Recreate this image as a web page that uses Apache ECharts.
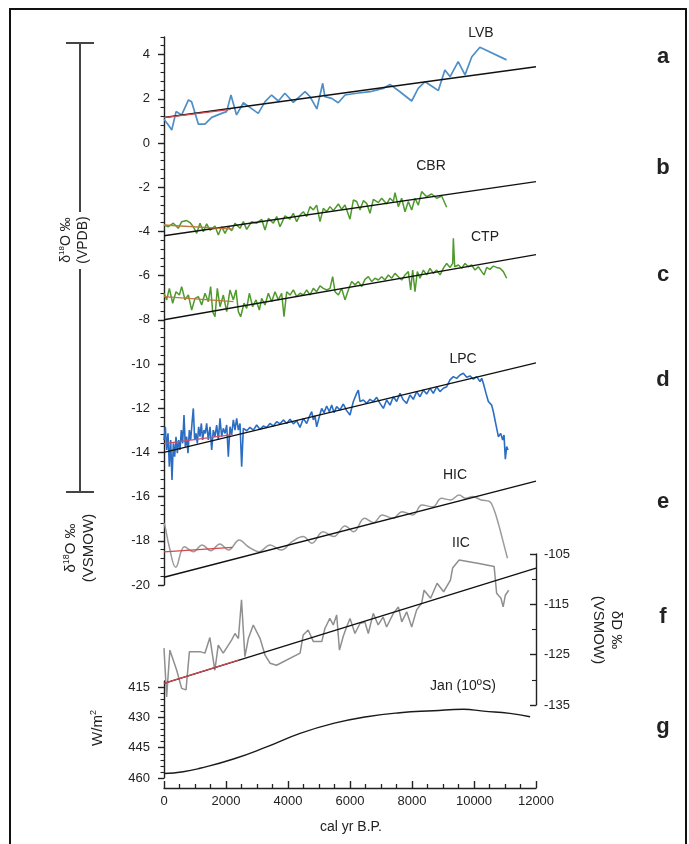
<!DOCTYPE html>
<html><head><meta charset="utf-8">
<script src="https://cdn.jsdelivr.net/npm/echarts@6/dist/echarts.min.js"></script>
<style>html,body{margin:0;padding:0;background:#fff}#c{width:689px;height:844px}</style>
</head><body><div id="c"></div>
<script>
// ---- data (x = cal yr B.P.) ----
const lvb = [[0,1.07],[140,0.81],[250,0.59],[390,1.42],[570,1.27],[790,1.95],[890,1.87],[1110,0.85],[1320,0.85],[1540,1.16],[1860,1.34],[2020,1.42],[2160,2.17],[2340,1.27],[2560,1.82],[2770,1.61],[3040,1.34],[3260,1.87],[3470,2.17],[3690,1.9],[3900,2.25],[4170,1.84],[4550,2.32],[4710,2.1],[4930,1.54],[5120,2.7],[5190,2.1],[5410,2.02],[5620,1.82],[5840,2.17],[6210,2.25],[6650,2.32],[7070,2.47],[7290,2.65],[7610,2.32],[7990,1.9],[8200,2.47],[8420,2.77],[8630,2.58],[8850,2.37],[9060,3.3],[9230,3.0],[9490,3.68],[9710,3.08],[9930,3.9],[10190,4.33],[11050,3.76]];
const cbr = [[0,-3.71],[140,-3.79],[301,-3.63],[462,-3.86],[570,-3.56],[731,-3.51],[839,-3.6],[946,-3.79],[1054,-4.09],[1161,-3.63],[1269,-4.01],[1376,-3.66],[1484,-3.94],[1645,-3.76],[1753,-4.16],[1860,-3.79],[1968,-4.09],[2075,-3.79],[2183,-3.97],[2290,-3.63],[2452,-3.86],[2559,-3.56],[2667,-3.91],[2828,-3.56],[2989,-3.63],[3151,-3.45],[3258,-3.94],[3366,-3.41],[3527,-3.63],[3635,-3.33],[3742,-3.79],[3903,-3.3],[4064,-3.45],[4172,-3.18],[4280,-3.56],[4387,-3.26],[4495,-3.11],[4602,-3.33],[4710,-2.88],[4817,-3.03],[4925,-2.81],[5032,-3.56],[5140,-2.96],[5248,-3.11],[5355,-2.88],[5463,-3.06],[5624,-2.76],[5732,-3.0],[5839,-2.81],[6000,-3.45],[6108,-2.58],[6215,-2.65],[6323,-3.03],[6430,-2.61],[6538,-2.73],[6645,-3.18],[6753,-2.55],[6914,-2.7],[7022,-2.5],[7183,-2.76],[7291,-2.5],[7398,-2.65],[7452,-2.25],[7559,-2.88],[7667,-2.5],[7774,-3.11],[7882,-2.65],[7989,-3.03],[8097,-2.5],[8204,-2.81],[8312,-2.2],[8473,-2.43],[8635,-2.31],[8796,-2.5],[8957,-2.4],[9118,-2.91]];
const ctp = [[0,-6.8],[86,-7.1],[172,-6.58],[280,-7.25],[387,-6.73],[495,-6.88],[570,-6.5],[677,-7.1],[785,-6.88],[893,-7.56],[1000,-7.03],[1108,-6.95],[1215,-7.33],[1323,-6.8],[1430,-7.18],[1505,-6.5],[1570,-7.63],[1645,-7.86],[1720,-6.58],[1807,-7.41],[1914,-6.88],[2022,-7.63],[2129,-6.65],[2237,-7.1],[2323,-6.65],[2398,-7.63],[2473,-7.86],[2581,-7.25],[2667,-7.48],[2753,-6.8],[2860,-7.41],[2968,-7.1],[3075,-7.56],[3151,-7.03],[3258,-7.33],[3366,-6.8],[3473,-7.18],[3581,-6.73],[3688,-7.1],[3796,-6.8],[3871,-7.86],[3957,-6.73],[4065,-6.88],[4172,-6.65],[4280,-6.95],[4387,-6.8],[4495,-6.88],[4602,-6.65],[4710,-6.88],[4817,-6.58],[4925,-6.73],[5032,-6.47],[5140,-6.58],[5248,-6.65],[5355,-6.58],[5441,-6.05],[5516,-6.73],[5624,-6.88],[5731,-6.58],[5839,-7.1],[5946,-6.65],[6054,-6.27],[6162,-6.42],[6269,-6.27],[6377,-6.5],[6484,-6.17],[6592,-6.05],[6699,-6.27],[6807,-6.12],[6914,-6.2],[7022,-6.05],[7129,-6.2],[7237,-5.97],[7344,-6.12],[7452,-5.9],[7559,-6.05],[7667,-6.2],[7774,-5.97],[7882,-5.82],[7957,-6.65],[8022,-5.75],[8097,-6.73],[8172,-5.82],[8258,-6.12],[8366,-5.75],[8473,-5.97],[8581,-5.67],[8688,-5.9],[8796,-5.75],[8904,-5.97],[9011,-5.67],[9119,-5.45],[9226,-5.63],[9312,-5.45],[9334,-4.31],[9377,-5.6],[9495,-5.52],[9603,-5.67],[9710,-5.45],[9818,-5.6],[9925,-5.52],[10033,-5.75],[10140,-5.6],[10248,-5.82],[10323,-5.97],[10409,-5.63],[10516,-5.72],[10624,-5.57],[10732,-5.63],[10839,-5.67],[10947,-5.82],[11054,-6.12]];
const lpc = [[0,-13.44],[43,-12.84],[86,-13.89],[129,-13.14],[172,-14.65],[215,-13.44],[258,-15.25],[301,-13.59],[344,-14.19],[387,-13.29],[430,-14.04],[473,-13.44],[516,-13.89],[559,-12.99],[602,-13.59],[645,-12.31],[688,-13.74],[731,-13.29],[774,-14.04],[817,-12.99],[860,-13.44],[903,-12.69],[946,-12.01],[989,-13.44],[1032,-13.14],[1075,-13.59],[1118,-12.84],[1161,-13.29],[1204,-12.69],[1247,-13.44],[1290,-12.99],[1333,-13.14],[1376,-12.69],[1430,-13.44],[1484,-12.84],[1538,-13.89],[1591,-12.99],[1645,-13.29],[1699,-12.76],[1753,-13.44],[1807,-12.46],[1860,-13.29],[1914,-12.91],[1968,-13.14],[2022,-12.76],[2075,-14.19],[2129,-12.84],[2183,-13.21],[2237,-12.53],[2290,-12.99],[2344,-12.46],[2398,-12.99],[2452,-12.69],[2505,-14.65],[2559,-12.91],[2667,-13.02],[2774,-12.87],[2882,-12.99],[2989,-12.76],[3097,-12.96],[3204,-12.81],[3312,-12.87],[3419,-12.69],[3527,-12.81],[3635,-12.61],[3742,-12.71],[3850,-12.53],[3957,-12.69],[4065,-12.5],[4172,-12.71],[4280,-12.56],[4387,-12.87],[4495,-12.46],[4602,-12.69],[4710,-12.31],[4764,-12.16],[4817,-12.53],[4871,-12.35],[4925,-12.84],[5011,-12.38],[5086,-12.01],[5162,-12.2],[5248,-11.9],[5333,-12.16],[5409,-11.86],[5484,-12.2],[5570,-11.93],[5678,-12.08],[5785,-11.81],[5893,-12.11],[6000,-12.31],[6108,-11.7],[6215,-11.33],[6269,-11.18],[6323,-11.7],[6430,-11.63],[6538,-11.78],[6645,-11.6],[6753,-11.7],[6860,-11.51],[6968,-11.78],[7076,-12.01],[7183,-11.63],[7291,-11.86],[7398,-11.48],[7506,-11.7],[7613,-11.33],[7721,-11.63],[7828,-11.78],[7936,-11.4],[8043,-11.6],[8151,-11.25],[8258,-11.48],[8366,-11.18],[8473,-11.36],[8581,-11.1],[8688,-11.33],[8796,-11.03],[8903,-11.25],[9011,-11.1],[9119,-11.03],[9226,-10.72],[9334,-10.57],[9441,-10.65],[9549,-10.5],[9656,-10.42],[9764,-10.6],[9871,-10.54],[9979,-10.69],[10086,-10.57],[10194,-10.8],[10248,-10.65],[10301,-10.87],[10388,-11.33],[10463,-11.7],[10570,-11.86],[10624,-12.16],[10678,-12.16],[10732,-12.91],[10786,-13.29],[10861,-13.14],[10925,-13.44],[10968,-13.21],[11011,-14.31],[11054,-13.74],[11097,-13.89]];
const hic = [[0,-17.2],[25,-17.28],[170,-18.27],[380,-19.2],[660,-18.27],[950,-18.49],[1230,-18.19],[1510,-18.45],[1800,-18.14],[2080,-18.42],[2430,-17.96],[2720,-18.27],[3070,-18.49],[3420,-18.19],[3780,-18.42],[4130,-18.04],[4490,-17.81],[4770,-18.11],[5130,-17.59],[5480,-17.81],[5840,-17.33],[6120,-17.59],[6470,-16.98],[6760,-17.18],[7040,-16.83],[7390,-16.98],[7680,-16.68],[8030,-16.83],[8320,-16.38],[8670,-16.46],[8950,-16.08],[9240,-16.15],[9520,-15.93],[9730,-16.08],[9950,-16.0],[10230,-16.15],[10510,-16.23],[10650,-16.61],[10800,-17.29],[10940,-18.04],[11080,-18.79]];
const iic = [[0,-123.7],[85,-133.4],[190,-124.1],[410,-128.1],[570,-131.7],[710,-132.0],[820,-124.4],[1160,-124.4],[1320,-124.7],[1480,-121.6],[1640,-128.1],[1750,-123.1],[1910,-124.7],[2180,-122.1],[2290,-120.8],[2400,-121.8],[2500,-114.1],[2610,-125.4],[2720,-121.8],[2880,-119.1],[3100,-121.8],[3260,-125.1],[3420,-126.7],[3630,-127.1],[4390,-124.7],[4490,-121.1],[4650,-120.1],[4820,-122.4],[5090,-122.4],[5190,-119.8],[5350,-117.8],[5460,-119.1],[5570,-117.1],[5660,-124.1],[5780,-121.4],[5890,-119.5],[6000,-117.8],[6160,-120.8],[6320,-118.8],[6480,-118.5],[6590,-120.8],[6750,-116.8],[6910,-119.1],[7070,-117.5],[7180,-119.5],[7400,-116.8],[7560,-115.5],[7670,-118.5],[7830,-116.5],[7990,-119.5],[8150,-116.1],[8310,-114.8],[8390,-112.2],[8600,-113.8],[8810,-110.8],[9020,-112.5],[9240,-110.2],[9310,-107.8],[9520,-106.2],[10160,-106.9],[10650,-107.5],[10730,-112.8],[10870,-113.8],[10940,-115.5],[11010,-113.2],[11120,-112.2]];
const insolation = [[0,457.8],[620,456.9],[1160,455.2],[2240,450.6],[3310,444.6],[4390,437.9],[5460,433.0],[6540,429.7],[7610,427.7],[8690,426.7],[9660,426.0],[10300,426.9],[11160,428.0],[11810,429.7]];
// linear trends (black) and late-Holocene trends (red)
const trendA = [[0,1.15],[12000,3.45]];
const trendB = [[0,-4.2],[12000,-1.75]];
const trendC = [[0,-8.0],[12000,-5.05]];
const trendD = [[0,-14.0],[12000,-9.95]];
const trendE = [[0,-19.65],[12000,-15.3]];
const trendF = [[0,-130.7],[12000,-107.8]];
const redA = [[0,1.15],[2150,1.52]];
const redB = [[0,-3.71],[2240,-3.9]];
const redC = [[0,-6.95],[2240,-7.18]];
const redD = [[0,-13.6],[2200,-13.2]];
const redE = [[0,-18.5],[2200,-18.3]];
const redF = [[0,-130.7],[2400,-126.1]];
// tick labels
const leftTicks = [-20,-18,-16,-14,-12,-10,-8,-6,-4,-2,0,2,4];
const dDTicks = [-135,-125,-115,-105];
const dDMinor = [-130,-120,-110];
const wTicks = [415,430,445,460];
const wMinor = [418,421,424,427,433,436,439,442,448,451,454,457];
const xTicks = [0,2000,4000,6000,8000,10000,12000];
const seriesNames = ['LVB','CBR','CTP','LPC','HIC','IIC','Jan (10ºS)'];
const panelLetters = ['a','b','c','d','e','f','g'];

const leftMinor = [];
for (let k = 0; k <= 62; k++) leftMinor.push(Math.round((-20 + k * 0.4) * 10) / 10);

const FONT = 'Liberation Sans, Arial, sans-serif';
const INK = '#222';
const lab = {color: INK, fontFamily: FONT, fontSize: 13, formatter: v => String(v)};

function line(data, color, width, xi, yi, z, smooth) {
  return {type: 'line', data: data, xAxisIndex: xi, yAxisIndex: yi, showSymbol: false, symbol: 'none',
    smooth: smooth || false, lineStyle: {color: color, width: width}, z: z, silent: true, animation: false};
}

const chart = echarts.init(document.getElementById('c'), null, {renderer: 'canvas'});
const grids = [
  {left: 164, top: 36.9, width: 372, height: 548.1},
  {left: 164, top: 554, width: 372, height: 151},
  {left: 164, top: 681, width: 372, height: 97}
].map(g => Object.assign(g, {containLabel: false, outerBoundsMode: 'none'}));

const hiddenX = i => ({type: 'value', gridIndex: i, min: 0, max: 12000, show: false});
const axLine = {show: true, onZero: false, lineStyle: {color: INK, width: 1.4}};
const noLine = {show: false, onZero: false};

const option = {
  animation: false,
  backgroundColor: '#fff',
  grid: grids,
  xAxis: [hiddenX(0), hiddenX(1), {
    type: 'value', gridIndex: 2, min: 0, max: 12000, interval: 2000, offset: 10,
    axisLine: axLine,
    axisTick: {show: true, inside: true, length: 7, lineStyle: {color: INK, width: 1.4}},
    minorTick: {show: true, splitNumber: 4, length: 4, lineStyle: {color: INK, width: 1.3}},
    axisLabel: Object.assign({margin: 7, customValues: xTicks}, lab),
    splitLine: {show: false}
  }],
  yAxis: [
    {type: 'value', gridIndex: 0, min: -20, max: 4.8, interval: 2, position: 'left',
      axisLine: axLine,
      axisTick: {show: true, length: 6, customValues: leftTicks, lineStyle: {color: INK, width: 1.4}},
      axisLabel: Object.assign({margin: 14, customValues: leftTicks}, lab),
      splitLine: {show: false}},
    {type: 'value', gridIndex: 0, min: -20, max: 4.8, position: 'left',
      axisLine: noLine, axisLabel: {show: false}, splitLine: {show: false},
      axisTick: {show: true, length: 3.5, customValues: leftMinor, lineStyle: {color: INK, width: 1.1}}},
    {type: 'value', gridIndex: 1, min: -135, max: -105, interval: 10, position: 'right',
      axisLine: axLine,
      axisTick: {show: true, inside: true, length: 6, customValues: dDTicks, lineStyle: {color: INK, width: 1.4}},
      axisLabel: Object.assign({margin: 8, customValues: dDTicks}, lab),
      splitLine: {show: false}},
    {type: 'value', gridIndex: 1, min: -135, max: -105, position: 'right',
      axisLine: noLine, axisLabel: {show: false}, splitLine: {show: false},
      axisTick: {show: true, inside: true, length: 4, customValues: dDMinor, lineStyle: {color: INK, width: 1.1}}},
    {type: 'value', gridIndex: 2, min: 412, max: 460, inverse: true, position: 'left',
      axisLine: axLine,
      axisTick: {show: true, length: 6, customValues: wTicks, lineStyle: {color: INK, width: 1.4}},
      axisLabel: Object.assign({margin: 14, customValues: wTicks}, lab),
      splitLine: {show: false}},
    {type: 'value', gridIndex: 2, min: 412, max: 460, inverse: true, position: 'left',
      axisLine: noLine, axisLabel: {show: false}, splitLine: {show: false},
      axisTick: {show: true, length: 3.5, customValues: wMinor, lineStyle: {color: INK, width: 1.1}}}
  ],
  series: [
    line(lvb, '#4f8fc8', 1.7, 0, 0, 2),
    line(cbr, '#4e9a2c', 1.5, 0, 0, 2),
    line(ctp, '#4e9a2c', 1.5, 0, 0, 2),
    line(lpc, '#2b6dc2', 1.6, 0, 0, 2),
    line(hic, '#9a9a9a', 1.5, 0, 0, 2, 0.4),
    line(iic, '#8f8f8f', 1.5, 1, 2, 2),
    line(insolation, '#1a1a1a', 1.4, 2, 4, 2, true),
    line(trendA, '#111', 1.4, 0, 0, 3), line(trendB, '#111', 1.4, 0, 0, 3),
    line(trendC, '#111', 1.4, 0, 0, 3), line(trendD, '#111', 1.4, 0, 0, 3),
    line(trendE, '#111', 1.4, 0, 0, 3), line(trendF, '#111', 1.4, 1, 2, 3),
    line(redA, '#cf4a4f', 1.3, 0, 0, 4), line(redB, '#c0763c', 1.3, 0, 0, 4),
    line(redC, '#c0763c', 1.3, 0, 0, 4), line(redD, '#c9506a', 1.3, 0, 0, 4),
    line(redE, '#d2474a', 1.3, 0, 0, 4), line(redF, '#cf4a4f', 1.3, 1, 2, 4)
  ],
  graphic: []
};

const g = option.graphic;
g.push({type: 'rect', shape: {x: 10, y: 9, width: 676, height: 850}, style: {fill: 'none', stroke: '#111', lineWidth: 2}, silent: true});
// bracket for VPDB title
const br = {stroke: '#444', lineWidth: 2};
g.push({type: 'line', shape: {x1: 80, y1: 43, x2: 80, y2: 212}, style: br});
g.push({type: 'line', shape: {x1: 80, y1: 269, x2: 80, y2: 492}, style: br});
g.push({type: 'line', shape: {x1: 66, y1: 43, x2: 94, y2: 43}, style: br});
g.push({type: 'line', shape: {x1: 66, y1: 492, x2: 94, y2: 492}, style: br});

function mkRich(size) {
  return {n: {fontSize: size, fontFamily: FONT, color: INK}, s: {fontSize: Math.round(size * 0.58), fontFamily: FONT, color: INK, verticalAlign: 'top'}};
}
function rtext(x, y, text, rot, size) {
  g.push({type: 'text', x: x, y: y, rotation: rot, silent: true,
    style: {text: text, rich: mkRich(size), align: 'center', verticalAlign: 'middle', lineHeight: Math.round(size * 1.2), fill: INK, font: size + 'px ' + FONT}});
}
rtext(75, 240, '{n|δ}{s|18}{n|O ‰}\n{n|(VPDB)}', Math.PI / 2, 14);
rtext(80, 548, '{n|δ}{s|18}{n|O ‰}\n{n|(VSMOW)}', Math.PI / 2, 15);
rtext(98, 728, '{n|W/m}{s|2}', Math.PI / 2, 15);
rtext(607, 630, '{n|δD ‰}\n{n|(VSMOW)}', -Math.PI / 2, 15);

function txt(x, y, text, size, weight) {
  g.push({type: 'text', x: x, y: y, silent: true,
    style: {text: text, fill: INK, fontFamily: FONT, fontSize: size, fontWeight: weight || 'normal', align: 'center', verticalAlign: 'middle'}});
}
const namePos = [[481, 33], [431, 166], [485, 237], [463, 359], [455, 475], [461, 543], [463, 686]];
seriesNames.forEach((s, i) => txt(namePos[i][0], namePos[i][1], s, 14));
const letterPos = [57, 168, 275, 380, 502, 617, 727];
panelLetters.forEach((s, i) => txt(663, letterPos[i], s, 22, 'bold'));
txt(351, 827, 'cal yr B.P.', 14);

chart.setOption(option);
</script></body></html>
